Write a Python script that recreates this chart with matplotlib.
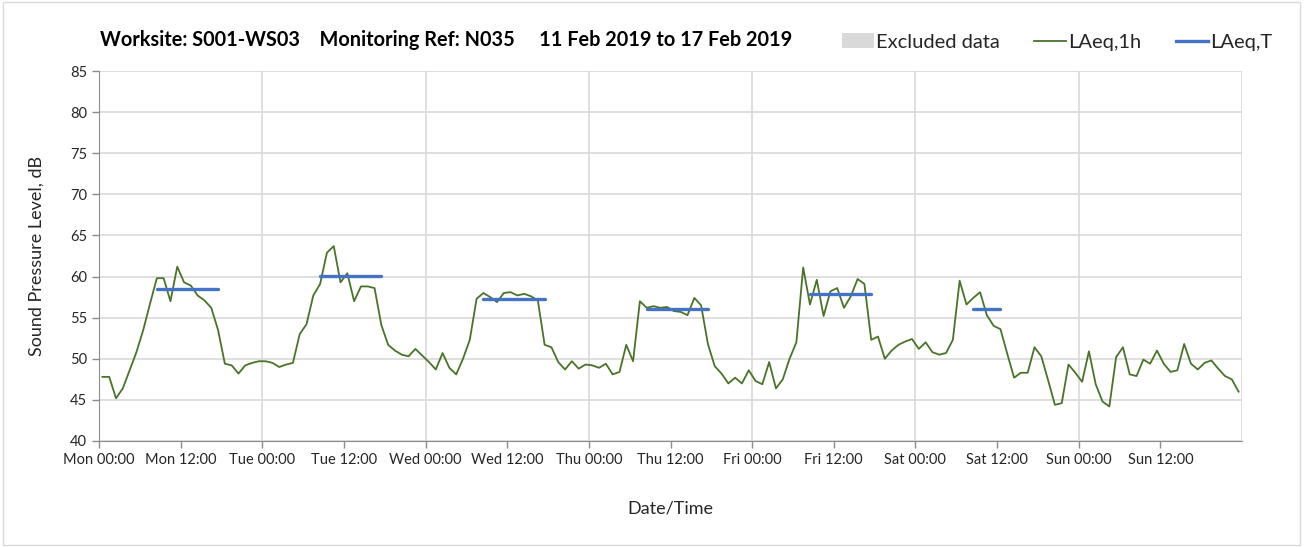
import numpy as np
import pandas as pd
import matplotlib
matplotlib.use("Agg")
import matplotlib.pyplot as plt
import matplotlib.dates as mdates
from matplotlib.patches import Patch, Rectangle
from matplotlib.lines import Line2D

plt.rcParams['font.family'] = ['Lato', 'DejaVu Sans']

# hourly LAeq,1h values, Mon 11 Feb 2019 00:00 -> Sun 17 Feb 2019 23:00
laeq_1h = [
    47.8, 47.8, 45.2, 46.4, 48.6, 50.8, 53.5, 56.7, 59.8, 59.8, 57.0, 61.2,
    59.3, 58.9, 57.7, 57.1, 56.2, 53.5, 49.4, 49.2, 48.2, 49.2, 49.5, 49.7,
    49.7, 49.5, 49.0, 49.3, 49.5, 53.0, 54.2, 57.7, 59.1, 62.9, 63.7, 59.3,
    60.4, 57.0, 58.8, 58.8, 58.6, 54.1, 51.7, 51.0, 50.5, 50.3, 51.2, 50.4,
    49.6, 48.7, 50.7, 48.9, 48.1, 50.0, 52.3, 57.3, 58.0, 57.5, 56.9, 58.0,
    58.1, 57.7, 57.9, 57.6, 57.1, 51.7, 51.4, 49.6, 48.7, 49.7, 48.8, 49.3,
    49.2, 48.9, 49.4, 48.1, 48.4, 51.7, 49.7, 57.0, 56.2, 56.4, 56.2, 56.3,
    55.8, 55.7, 55.3, 57.4, 56.5, 51.8, 49.1, 48.2, 47.0, 47.7, 47.0, 48.6,
    47.3, 46.9, 49.6, 46.4, 47.5, 50.0, 52.0, 61.1, 56.6, 59.6, 55.2, 58.2,
    58.6, 56.2, 57.6, 59.7, 59.1, 52.3, 52.7, 50.0, 51.0, 51.7, 52.1, 52.4,
    51.2, 52.0, 50.8, 50.5, 50.7, 52.3, 59.5, 56.6, 57.4, 58.1, 55.3, 54.0,
    53.6, 50.6, 47.7, 48.3, 48.3, 51.4, 50.3, 47.4, 44.4, 44.6, 49.3, 48.3,
    47.2, 50.9, 46.9, 44.8, 44.2, 50.2, 51.4, 48.1, 47.9, 49.9, 49.4, 51.0,
    49.4, 48.4, 48.6, 51.8, 49.4, 48.7, 49.5, 49.8, 48.8, 47.9, 47.5, 46.0,
]

# daytime assessment periods (start hour index, end hour index, LAeq,T)
period_start = [8, 32, 56, 80, 104, 128]
period_end = [18, 42, 66, 90, 114, 133]
laeq_T_vals = [58.45, 60.1, 57.3, 56.0, 57.85, 56.0]

times = pd.date_range('2019-02-11 00:30', periods=len(laeq_1h), freq='h')
laeq_T = np.full(len(laeq_1h), np.nan)
for s, e, v in zip(period_start, period_end, laeq_T_vals):
    laeq_T[s:e] = v

green = '#4a7329'
blue = '#4472c4'
grid_c = '#d9d9d9'
axis_c = '#8c8c8c'

fig = plt.figure(figsize=(13.04, 5.47), dpi=100)
ax = fig.add_axes([99/1304, 1 - 441/547, (1242 - 99)/1304, (441 - 71)/547])

t0 = pd.Timestamp('2019-02-11 00:00')
t1 = pd.Timestamp('2019-02-18 00:00')

# vertical gridlines at midnight
for d in pd.date_range(t0, t1, freq='D')[1:]:
    ax.axvline(d, color=grid_c, lw=1.2, zorder=0)
ax.grid(axis='y', color=grid_c, lw=1.2, zorder=0)

ax.plot(times, laeq_1h, color=green, lw=1.3, zorder=3)
ax.plot(times, laeq_T, color=blue, lw=2.4, solid_capstyle='round', zorder=4)

ax.set_xlim(t0, t1)
ax.set_ylim(40, 85)
ax.set_yticks(np.arange(40, 86, 5))
ax.xaxis.set_major_locator(mdates.HourLocator(byhour=[0, 12]))
ax.xaxis.set_major_formatter(mdates.DateFormatter('%a %H:%M'))
ticks = ax.get_xticks()
ax.set_xticks(ticks[:-1])

ax.spines['top'].set_visible(False)
ax.spines['right'].set_visible(False)
ax.spines['left'].set_color(axis_c)
ax.spines['bottom'].set_color(axis_c)
ax.tick_params(axis='both', colors=axis_c, length=5, width=1, labelsize=10.5,
               labelcolor='#262626')
ax.tick_params(axis='x', pad=4)
ax.set_axisbelow(True)

ax.set_ylabel('Sound Pressure Level, dB', fontsize=13, color='#262626', labelpad=18)
ax.set_xlabel('Date/Time', fontsize=13, color='#262626', labelpad=24)

fig.text(100/1304, 1 - 40/547, 'Worksite: S001-WS03    Monitoring Ref: N035     11 Feb 2019 to 17 Feb 2019',
         fontsize=14.3, fontweight='bold', va='center', ha='left', color='#000000')

handles = [Patch(facecolor=grid_c, edgecolor='none'),
           Line2D([], [], color=green, lw=1.3),
           Line2D([], [], color=blue, lw=2.4)]
fig.legend(handles, ['Excluded data', 'LAeq,1h', 'LAeq,T'], loc='center right',
           bbox_to_anchor=(1290/1304, 1 - 42/547), ncol=3, frameon=False,
           fontsize=14.5, handlelength=1.6, handletextpad=0.1, columnspacing=1.7,
           labelcolor='#262626')

fig.add_artist(Rectangle((0.002, 0.003), 0.995, 0.994, transform=fig.transFigure,
                         fill=False, edgecolor=grid_c, lw=1))

fig.savefig('out.png', dpi=100, facecolor='white')
